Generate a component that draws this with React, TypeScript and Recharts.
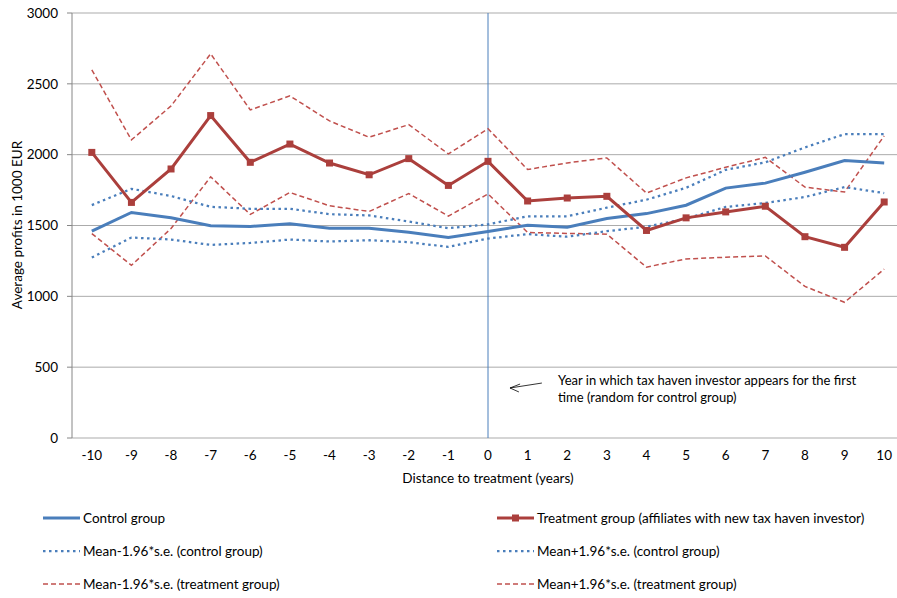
import {
  LineChart,
  Line,
  XAxis,
  YAxis,
  CartesianGrid,
  ReferenceLine,
  Label,
} from 'recharts';

const years = [-10, -9, -8, -7, -6, -5, -4, -3, -2, -1, 0, 1, 2, 3, 4, 5, 6, 7, 8, 9, 10];

const controlMean = [1460, 1592, 1554, 1498, 1493, 1512, 1481, 1481, 1453, 1415, 1458, 1502, 1488, 1549, 1584, 1643, 1764, 1799, 1876, 1958, 1942];
const controlLow = [1274, 1415, 1401, 1363, 1377, 1401, 1387, 1396, 1382, 1349, 1408, 1439, 1421, 1460, 1491, 1549, 1631, 1659, 1701, 1771, 1729];
const controlHigh = [1644, 1759, 1708, 1632, 1618, 1618, 1580, 1571, 1528, 1481, 1508, 1565, 1565, 1626, 1682, 1766, 1893, 1946, 2051, 2145, 2145];

const treatMean = [2016, 1663, 1899, 2276, 1946, 2075, 1941, 1858, 1972, 1783, 1953, 1673, 1694, 1706, 1465, 1554, 1596, 1636, 1421, 1346, 1666];
const treatLow = [1443, 1219, 1479, 1844, 1578, 1733, 1639, 1599, 1726, 1566, 1723, 1451, 1444, 1439, 1206, 1264, 1276, 1285, 1070, 958, 1192];
const treatHigh = [2599, 2104, 2344, 2712, 2316, 2415, 2238, 2123, 2212, 2005, 2183, 1895, 1942, 1977, 1729, 1836, 1911, 1981, 1771, 1736, 2133];

const yTicks = [0, 500, 1000, 1500, 2000, 2500, 3000];
const boundaryTicks = years.map((y) => y - 0.5).concat([10.5]);

const data = years.map((year, i) => ({
  year,
  controlMean: controlMean[i],
  controlLow: controlLow[i],
  controlHigh: controlHigh[i],
  treatMean: treatMean[i],
  treatLow: treatLow[i],
  treatHigh: treatHigh[i],
}));

const FONT = 'Lato, "Open Sans", sans-serif';
const BLUE = '#4a7ebb';
const BLUE_DOT = '#4a7ebb';
const RED = '#ab3f3c';
const RED_DASH = '#c0504d';
const AXIS = '#868686';
const GRID = '#ababab';
const FS = 13.5;
const DOTS = '2.5 3.5';

const legendItems = [
  { label: 'Control group', stroke: BLUE, width: 3, dash: undefined, marker: false },
  { label: 'Treatment group (affiliates with new tax haven investor)', stroke: RED, width: 3, dash: undefined, marker: true },
  { label: 'Mean-1.96*s.e. (control group)', stroke: BLUE_DOT, width: 2.25, dash: DOTS, marker: false },
  { label: 'Mean+1.96*s.e. (control group)', stroke: BLUE_DOT, width: 2.25, dash: DOTS, marker: false },
  { label: 'Mean-1.96*s.e. (treatment group)', stroke: RED_DASH, width: 1.5, dash: '5 3', marker: false },
  { label: 'Mean+1.96*s.e. (treatment group)', stroke: RED_DASH, width: 1.5, dash: '5 3', marker: false },
];

const SquareDot = (props: any) => {
  const { cx, cy, index } = props;
  if (cx == null || cy == null) return null;
  return <rect key={`sq-${index}`} x={cx - 3.5} y={cy - 3.5} width={7} height={7} fill={RED} />;
};

const NoTick = () => <g />;

export default function App() {
  return (
    <div
      style={{
        position: 'fixed',
        left: 0,
        top: 0,
        width: 897,
        height: 598,
        overflow: 'hidden',
        background: '#fff',
        fontFamily: FONT,
        color: '#000',
      }}
    >
      <LineChart width={910} height={598} data={data} margin={{ top: 13, right: 6, left: 0, bottom: 130 }}>
        <CartesianGrid vertical={false} stroke={GRID} strokeWidth={1} />
        <XAxis
          xAxisId="b"
          type="number"
          dataKey="year"
          domain={[-10.5, 10.5]}
          ticks={boundaryTicks}
          interval={0}
          tick={NoTick}
          tickSize={5}
          tickLine={{ stroke: AXIS }}
          axisLine={{ stroke: AXIS }}
          height={0}
        />
        <XAxis
          xAxisId="main"
          type="number"
          dataKey="year"
          domain={[-10.5, 10.5]}
          ticks={years}
          interval={0}
          tickLine={false}
          tickSize={0}
          tickMargin={12}
          axisLine={false}
          tick={{ fontSize: FS, fill: '#000', fontFamily: FONT }}
          height={30}
        >
          <Label value="Distance to treatment (years)" position="bottom" offset={5} style={{ fontSize: FS, fill: '#000', fontFamily: FONT }} />
        </XAxis>
        <YAxis
          domain={[0, 3000]}
          ticks={yTicks}
          interval={0}
          width={72}
          tickSize={5}
          tickMargin={9}
          tickLine={{ stroke: AXIS }}
          axisLine={{ stroke: AXIS }}
          tick={{ fontSize: FS, fill: '#000', fontFamily: FONT }}
        >
          <Label
            content={() => (
              <text
                x={17}
                y={225}
                transform="rotate(-90 17 225)"
                textAnchor="middle"
                dominantBaseline="central"
                style={{ fontSize: FS, fill: '#000', fontFamily: FONT }}
              >
                Average profits in 1000 EUR
              </text>
            )}
          />
        </YAxis>
        <ReferenceLine xAxisId="main" x={0} stroke={BLUE_DOT} strokeWidth={1} />
        <ReferenceLine xAxisId="main" segment={[{ x: 1.36, y: 388 }, { x: 0.555, y: 353 }]} stroke="#000" strokeWidth={0.8} ifOverflow="visible" />
        <ReferenceLine xAxisId="main" segment={[{ x: 0.555, y: 353 }, { x: 0.81, y: 381 }]} stroke="#000" strokeWidth={0.8} ifOverflow="visible" />
        <ReferenceLine xAxisId="main" segment={[{ x: 0.555, y: 353 }, { x: 0.78, y: 325 }]} stroke="#000" strokeWidth={0.8} ifOverflow="visible" />

        <Line xAxisId="main" type="linear" dataKey="treatLow" stroke={RED_DASH} strokeWidth={1.5} strokeDasharray="5 3" dot={false} isAnimationActive={false} />
        <Line xAxisId="main" type="linear" dataKey="treatHigh" stroke={RED_DASH} strokeWidth={1.5} strokeDasharray="5 3" dot={false} isAnimationActive={false} />
        <Line xAxisId="main" type="linear" dataKey="controlLow" stroke={BLUE_DOT} strokeWidth={2.25} strokeDasharray={DOTS} dot={false} isAnimationActive={false} />
        <Line xAxisId="main" type="linear" dataKey="controlHigh" stroke={BLUE_DOT} strokeWidth={2.25} strokeDasharray={DOTS} dot={false} isAnimationActive={false} />
        <Line xAxisId="main" type="linear" dataKey="controlMean" stroke={BLUE} strokeWidth={3} dot={false} isAnimationActive={false} />
        <Line xAxisId="main" type="linear" dataKey="treatMean" stroke={RED} strokeWidth={3} dot={SquareDot} activeDot={false} isAnimationActive={false} />
      </LineChart>

      <div style={{ position: 'absolute', left: 558, top: 372, fontSize: 13, lineHeight: '17px', width: 340, whiteSpace: 'nowrap' }}>
        Year in which tax haven investor appears for the first
        <br />
        time (random for control group)
      </div>

      {legendItems.map((item, i) => {
        const col = i % 2;
        const row = Math.floor(i / 2);
        const left = col === 0 ? 43 : 497;
        const top = 518 + row * 33;
        return (
          <div
            key={item.label}
            style={{ position: 'absolute', left, top: top - 10, height: 20, display: 'flex', alignItems: 'center', fontSize: FS, whiteSpace: 'nowrap' }}
          >
            <svg width={38} height={12} style={{ marginRight: 2 }}>
              <line x1={0} y1={6} x2={37} y2={6} stroke={item.stroke} strokeWidth={item.width} strokeDasharray={item.dash} />
              {item.marker && <rect x={15} y={2.5} width={7} height={7} fill={item.stroke} />}
            </svg>
            <span>{item.label}</span>
          </div>
        );
      })}
    </div>
  );
}
